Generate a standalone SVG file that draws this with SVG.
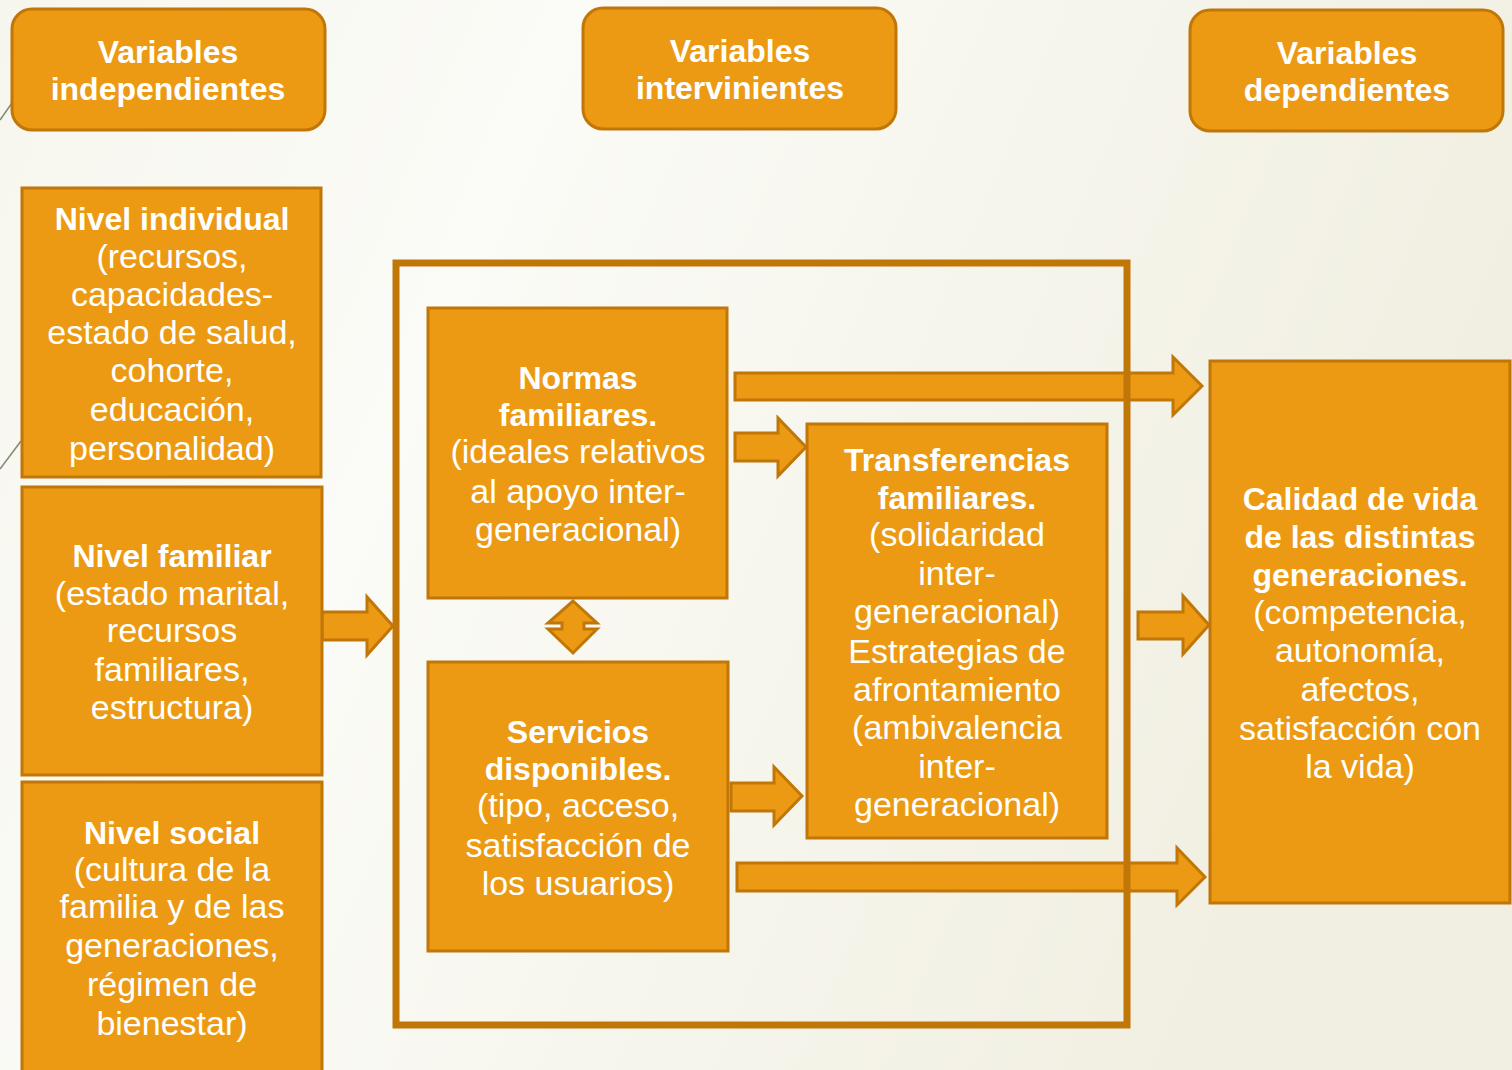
<svg xmlns="http://www.w3.org/2000/svg" width="1512" height="1070" viewBox="0 0 1512 1070">
<defs>
<linearGradient id="bg" x1="0" y1="0" x2="1" y2="0.3">
<stop offset="0" stop-color="#F7F6EE"/>
<stop offset="0.35" stop-color="#FBFBF7"/>
<stop offset="1" stop-color="#F1EFE1"/>
</linearGradient>
<style>
.box{fill:#EC9A14;stroke:#C07708;stroke-width:3}
.arr{fill:#EC9A14;stroke:#C07708;stroke-width:3;stroke-linejoin:miter}
.t{font-family:"Liberation Sans",Arial,sans-serif;fill:#FFFFFF;text-anchor:middle;font-size:34px}
.b{font-weight:bold;font-size:32px}
.deco{stroke:#7E8C72;stroke-width:1.5;fill:none}
</style>
</defs>
<rect x="0" y="0" width="1512" height="1070" fill="url(#bg)"/>
<line class="deco" x1="0" y1="120" x2="14" y2="100"/>
<line class="deco" x1="0" y1="469" x2="21" y2="441"/>

<g id="h1"><rect class="box" x="12" y="9" width="313" height="121" rx="20"/>
<text class="t b" x="168" y="63">Variables</text><text class="t b" x="168" y="100">independientes</text></g>
<g id="h2"><rect class="box" x="583" y="8" width="313" height="121" rx="20"/>
<text class="t b" x="740" y="62">Variables</text><text class="t b" x="740" y="99">intervinientes</text></g>
<g id="h3"><rect class="box" x="1190" y="10" width="313" height="121" rx="20"/>
<text class="t b" x="1347" y="64">Variables</text><text class="t b" x="1347" y="101">dependientes</text></g>

<g id="connectors">
<polygon class="arr" points="322,612 367,612 367,597 393,626 367,655 367,640 322,640"/>
<polygon class="arr" points="735,373 1173,373 1173,357 1202,386 1173,415 1173,400 735,400"/>
<polygon class="arr" points="735,433 778,433 778,418 806,447 778,476 778,461 735,461"/>
<polygon class="arr" points="731,783 774,783 774,767 802,796 774,825 774,811 731,811"/>
<polygon class="arr" points="737,863 1177,863 1177,848 1205,877 1177,905 1177,891 737,891"/>
<polygon class="arr" points="1138,612 1183,612 1183,596 1209,625 1183,654 1183,639 1138,639"/>
<polygon class="arr" points="573,601 597,623 584,623 584,629 597,629 573,653 548,629 562,629 562,623 548,623"/>
</g>

<g id="frame"><rect x="396" y="263" width="731" height="762" fill="none" stroke="#C07708" stroke-width="7"/></g>

<g id="n-individual"><rect class="box" x="22" y="188" width="299" height="289"/>
<text class="t b" x="172" y="230">Nivel individual</text>
<text class="t" x="172" y="268">(recursos,</text>
<text class="t" x="172" y="306">capacidades-</text>
<text class="t" x="172" y="344">estado de salud,</text>
<text class="t" x="172" y="382">cohorte,</text>
<text class="t" x="172" y="421">educación,</text>
<text class="t" x="172" y="460">personalidad)</text></g>

<g id="n-familiar"><rect class="box" x="22" y="487" width="300" height="288"/>
<text class="t b" x="172" y="567">Nivel familiar</text>
<text class="t" x="172" y="605">(estado marital,</text>
<text class="t" x="172" y="642">recursos</text>
<text class="t" x="172" y="681">familiares,</text>
<text class="t" x="172" y="719">estructura)</text></g>

<g id="n-social"><rect class="box" x="22" y="782" width="300" height="300"/>
<text class="t b" x="172" y="844">Nivel social</text>
<text class="t" x="172" y="881">(cultura de la</text>
<text class="t" x="172" y="918">familia y de las</text>
<text class="t" x="172" y="957">generaciones,</text>
<text class="t" x="172" y="996">régimen de</text>
<text class="t" x="172" y="1035">bienestar)</text></g>

<g id="normas"><rect class="box" x="428" y="308" width="299" height="290"/>
<text class="t b" x="578" y="389">Normas</text>
<text class="t b" x="578" y="426">familiares.</text>
<text class="t" x="578" y="463">(ideales relativos</text>
<text class="t" x="578" y="503">al apoyo inter-</text>
<text class="t" x="578" y="541">generacional)</text></g>

<g id="servicios"><rect class="box" x="428" y="662" width="300" height="289"/>
<text class="t b" x="578" y="743">Servicios</text>
<text class="t b" x="578" y="780">disponibles.</text>
<text class="t" x="578" y="817">(tipo, acceso,</text>
<text class="t" x="578" y="857">satisfacción de</text>
<text class="t" x="578" y="895">los usuarios)</text></g>

<g id="transferencias"><rect class="box" x="807" y="424" width="300" height="414"/>
<text class="t b" x="957" y="471">Transferencias</text>
<text class="t b" x="957" y="509">familiares.</text>
<text class="t" x="957" y="546">(solidaridad</text>
<text class="t" x="957" y="585">inter-</text>
<text class="t" x="957" y="623">generacional)</text>
<text class="t" x="957" y="663">Estrategias de</text>
<text class="t" x="957" y="701">afrontamiento</text>
<text class="t" x="957" y="739">(ambivalencia</text>
<text class="t" x="957" y="778">inter-</text>
<text class="t" x="957" y="816">generacional)</text></g>

<g id="calidad"><rect class="box" x="1210" y="361" width="300" height="542"/>
<text class="t b" x="1360" y="510">Calidad de vida</text>
<text class="t b" x="1360" y="548">de las distintas</text>
<text class="t b" x="1360" y="586">generaciones.</text>
<text class="t" x="1360" y="624">(competencia,</text>
<text class="t" x="1360" y="662">autonomía,</text>
<text class="t" x="1360" y="701">afectos,</text>
<text class="t" x="1360" y="740">satisfacción con</text>
<text class="t" x="1360" y="778">la vida)</text></g>
</svg>
